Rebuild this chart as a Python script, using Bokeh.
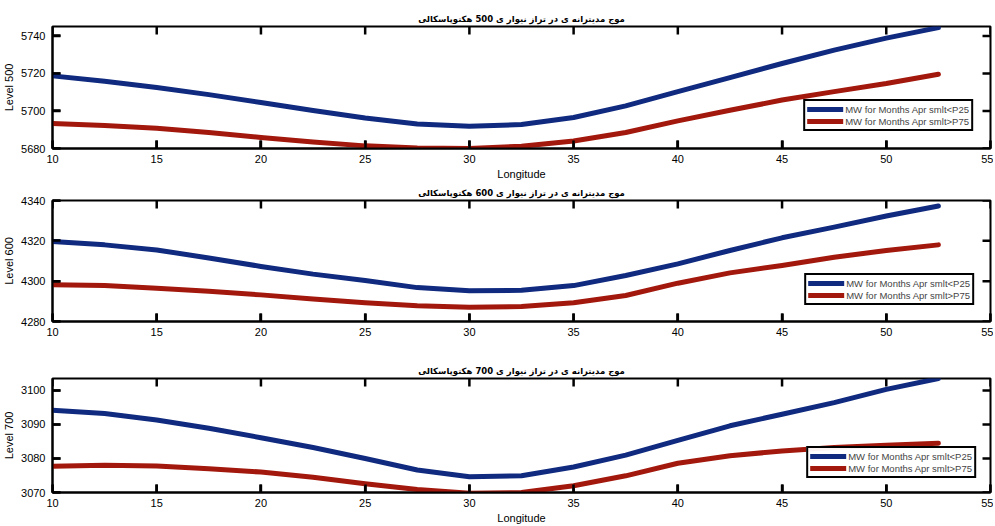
from bokeh.plotting import figure
from bokeh.models import Range1d, FixedTicker, Legend, LegendItem
from bokeh.layouts import column
from bokeh.embed import file_html
from bokeh.resources import INLINE

lon = [10, 12.5, 15, 17.5, 20, 22.5, 25, 27.5, 30, 32.5, 35, 37.5, 40, 42.5, 45, 47.5, 50, 52.5]

blue_500 = [5718.7, 5715.8, 5712.5, 5708.7, 5704.5, 5700.2, 5696.2, 5693.0, 5691.8, 5692.8,
            5696.5, 5702.7, 5710.3, 5717.8, 5725.3, 5732.4, 5738.8, 5744.4]
red_500 = [5693.3, 5692.2, 5690.8, 5688.5, 5685.9, 5683.5, 5681.4, 5680.3, 5680.0, 5681.2,
           5684.0, 5688.5, 5694.7, 5700.4, 5705.8, 5710.3, 5714.6, 5719.6]

blue_600 = [4319.7, 4318.0, 4315.5, 4311.5, 4307.3, 4303.5, 4300.3, 4296.8, 4295.2, 4295.5,
            4297.8, 4302.8, 4308.6, 4315.2, 4321.5, 4326.8, 4332.3, 4337.3]
red_600 = [4298.2, 4297.8, 4296.5, 4295.0, 4293.2, 4291.2, 4289.3, 4287.8, 4287.1, 4287.4,
           4289.3, 4292.9, 4299.0, 4304.1, 4307.8, 4311.9, 4315.2, 4318.0]

blue_700 = [3094.2, 3093.2, 3091.3, 3088.9, 3086.1, 3083.2, 3080.0, 3076.6, 3074.6, 3074.9,
            3077.5, 3081.0, 3085.3, 3089.6, 3093.0, 3096.4, 3100.3, 3103.5]
red_700 = [3077.7, 3078.0, 3077.8, 3077.0, 3076.0, 3074.5, 3072.6, 3070.9, 3069.8, 3070.0,
           3072.0, 3074.9, 3078.6, 3080.8, 3082.2, 3083.2, 3083.9, 3084.5]

levels = ["500", "600", "700"]
y_ranges = [(5680, 5745), (4280, 4340), (3070, 3103.5)]
y_ticks = [[5680, 5700, 5720, 5740], [4280, 4300, 4320, 4340], [3070, 3080, 3090, 3100]]
x_ticks = [10, 15, 20, 25, 30, 35, 40, 45, 50, 55]
labels = ["MW for Months Apr smlt<P25", "MW for Months Apr smlt>P75"]
title_tpl = "موج مدیترانه ی در تراز نیوار ی {} هکتوپاسکالی"

BLUE = "#0f2a7f"
RED = "#a3180c"
FONT = "Liberation Sans"

series = [(blue_500, red_500), (blue_600, red_600), (blue_700, red_700)]
W = 993
BL, BR = 51, 3
heights = [182, 178, 166]
top_b = [26, 18, 18]
bot_b = [34, 39, 33]
show_xlabel = [True, False, True]
margins = [17, 16, 14]
TICK_PX = 8

figs = []
for i in range(3):
    b, r = series[i]
    x0, x1 = 10, 55
    y0, y1 = y_ranges[i]
    p = figure(width=W, height=heights[i], output_backend="svg", toolbar_location=None,
               x_range=Range1d(x0, x1), y_range=Range1d(y0, y1),
               min_border_left=BL, min_border_right=BR,
               min_border_top=top_b[i], min_border_bottom=bot_b[i])
    p.title.text = title_tpl.format(levels[i])
    p.title.align = "center"
    p.title.text_font = "DejaVu Sans"
    p.title.text_font_size = "8.5px"
    p.title.text_font_style = "bold"
    p.title.text_color = "black"
    p.title.standoff = 6
    p.grid.visible = False
    p.outline_line_color = "black"
    p.outline_line_width = 2
    p.background_fill_color = "white"

    # inward tick marks on all four sides (MATLAB box style), as short line pieces
    fw = W - BL - BR
    fh = heights[i] - top_b[i] - bot_b[i]
    dx = TICK_PX / fw * (x1 - x0)
    dy = TICK_PX / fh * (y1 - y0)
    xs, ys = [], []
    for t in x_ticks:
        xs += [[t, t], [t, t]]
        ys += [[y0 - dy, y0 + dy], [y1 - dy, y1 + dy]]
    for t in y_ticks[i]:
        xs += [[x0 - dx, x0 + dx], [x1 - dx, x1 + dx]]
        ys += [[t, t], [t, t]]
    p.multi_line(xs, ys, line_color="black", line_width=2.5)

    lb = p.line(lon, b, line_color=BLUE, line_width=5, line_join="round", line_cap="round")
    lr = p.line(lon, r, line_color=RED, line_width=5, line_join="round", line_cap="round")

    xa = p.xaxis[0]
    xa.ticker = FixedTicker(ticks=x_ticks)
    ya = p.yaxis[0]
    ya.ticker = FixedTicker(ticks=y_ticks[i])
    ya.axis_label = "Level " + levels[i]
    for ax in (xa, ya):
        ax.axis_line_width = 2
        ax.axis_line_color = "black"
        ax.major_tick_line_color = "black"
        ax.major_tick_line_width = 2.5
        ax.major_tick_in = TICK_PX
        ax.major_tick_out = 0
        ax.minor_tick_line_color = None
        ax.minor_tick_in = 0
        ax.minor_tick_out = 0
        ax.major_label_text_font = FONT
        ax.major_label_text_font_size = "11px"
        ax.major_label_text_color = "black"
        ax.axis_label_text_font = FONT
        ax.axis_label_text_font_size = "11px"
        ax.axis_label_text_font_style = "normal"
        ax.axis_label_text_color = "black"
    ya.major_label_standoff = 7
    ya.axis_label_standoff = 3
    xa.major_label_standoff = 6
    xa.axis_label_standoff = 2
    if show_xlabel[i]:
        xa.axis_label = "Longitude"

    leg = Legend(items=[LegendItem(label=labels[0], renderers=[lb]),
                        LegendItem(label=labels[1], renderers=[lr])],
                 location="bottom_right", margin=margins[i], padding=2, spacing=0,
                 label_text_font=FONT, label_text_font_size="9.5px",
                 label_height=12, glyph_height=12, glyph_width=36,
                 border_line_color="black", border_line_width=2, border_line_alpha=1.0,
                 label_standoff=2)
    p.add_layout(leg)
    figs.append(p)

layout = column(*figs, spacing=0)
open("out.html", "w").write(file_html(layout, INLINE))
